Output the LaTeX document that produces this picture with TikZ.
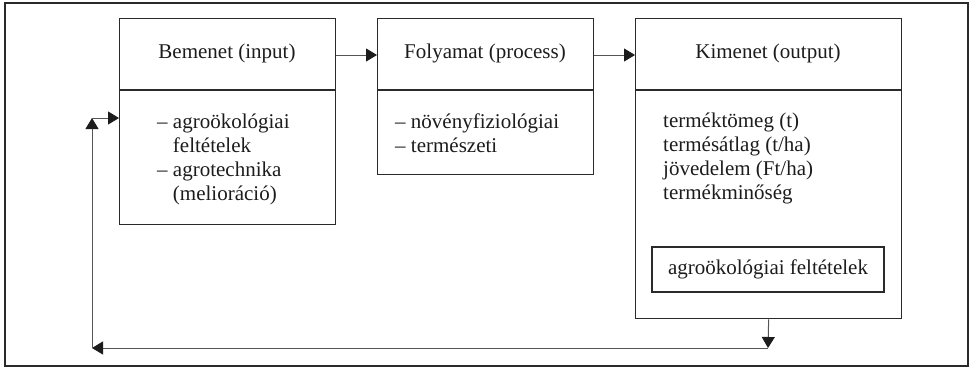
\documentclass[tikz,border=0pt]{standalone}
\usepackage{fontspec}
\setmainfont{Liberation Serif}
\usetikzlibrary{arrows.meta}
\definecolor{ink}{HTML}{1C1C1C}
\definecolor{edge}{HTML}{2A2A2A}
\definecolor{wire}{HTML}{555555}
\tikzset{
  panel/.style={draw=edge, line width=1.3pt, anchor=north west, inner sep=0pt},
  divider/.style={draw=edge, line width=2pt},
  title/.style={text=ink, font=\fontsize{21}{24}\selectfont, inner sep=0pt},
  body/.style={text=ink, font=\fontsize{21}{24}\selectfont, align=left, anchor=base west, inner sep=0pt},
  conn/.style={draw=wire, line width=1pt, -{Triangle[length=11pt,width=13pt,color=ink]}},
}
\begin{document}
\begin{tikzpicture}[x=1pt,y=-1pt]
\useasboundingbox (0,0) rectangle (971,367);
% outer frame
\draw[draw=edge, line width=1.4pt] (5,3) rectangle (968,366);

% input block (multi-line bodies are placed by the baseline of their last line)
\node[panel, minimum width=216pt, minimum height=206pt] (inbox) at (119,18) {};
\draw[divider] (119,89.5) -- (335,89.5);
\node[title] (intitle) at (227,53.5) {Bemenet (input)};
\node[body] (inbody) at (157,200) {– agroökológiai\\\hphantom{– }feltételek\\– agrotechnika\\\hphantom{– }(melioráció)};

% process block
\node[panel, minimum width=216pt, minimum height=156pt] (proc) at (377,18) {};
\draw[divider] (377,89.5) -- (593,89.5);
\node[title] (proctitle) at (485,53.5) {Folyamat (process)};
\node[body] (procbody) at (395,152) {– növényfiziológiai\\– természeti};

% output block
\node[panel, minimum width=266pt, minimum height=300pt] (outbox) at (635,18) {};
\draw[divider] (635,89.5) -- (901,89.5);
\node[title] (outtitle) at (768,53.5) {Kimenet (output)};
\node[body] (outbody) at (663,199) {terméktömeg (t)\\termésátlag (t/ha)\\jövedelem (Ft/ha)\\termékminőség};
\node[draw=edge, line width=1.1pt, minimum width=232pt, minimum height=45pt, inner sep=0pt, text=ink, font=\fontsize{21}{24}\selectfont] (cond) at (768,269.5) {agroökológiai feltételek};

% forward flow
\draw[conn] ([yshift=-37pt]inbox.north east) -- ([yshift=-37pt]proc.north west);
\draw[conn] ([yshift=-37pt]proc.north east) -- ([yshift=-37pt]outbox.north west);

% feedback loop
\coordinate (fbA) at (768,348);
\coordinate (fbB) at (92,348);
\coordinate (fbC) at (92,118);
\draw[conn] (outbox.south) -- (fbA);
\draw[conn] (fbA) -- (fbB);
\draw[conn] (fbB) -- (fbC);
\draw[conn] (fbC) -- (inbox.west |- fbC);
\end{tikzpicture}
\end{document}
